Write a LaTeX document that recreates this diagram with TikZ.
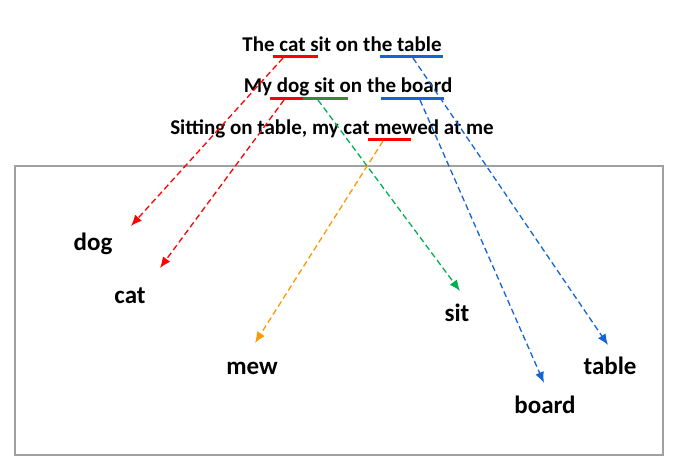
\documentclass[tikz,border=0pt]{standalone}
\usepackage{fontspec}
\setmainfont{Carlito}
\usetikzlibrary{arrows.meta,calc}
\definecolor{MapRed}{RGB}{255,0,0}
\definecolor{MapBlue}{RGB}{20,100,210}
\definecolor{MapGreen}{RGB}{0,176,80}
\definecolor{LineGreen}{RGB}{60,135,60}
\definecolor{MapOrange}{RGB}{255,153,0}
\definecolor{FrameGray}{RGB}{160,160,160}
\tikzset{
  sentence/.style={anchor=base,inner sep=0pt,font=\fontsize{21}{25}\selectfont\bfseries},
  word/.style={anchor=base,inner sep=0pt,font=\fontsize{25}{30}\selectfont\bfseries},
  underl/.style={line width=3pt},
  maparrow/.style={-{Latex[length=11pt,width=9pt]},dashed,dash pattern=on 6pt off 3.5pt,line width=1.3pt}
}
\begin{document}
\begin{tikzpicture}[x=1pt,y=-1pt]
      \useasboundingbox (0,0) rectangle (680,464);
      \draw[FrameGray,line width=1.2pt] (15,166) rectangle (663,455);
      % sentences
      \node[sentence] (s1) at (342,51) {The cat sit on the table};
      \node[sentence] (s2) at (348,92) {My dog sit on the board};
      \node[sentence] (s3) at (332,134) {Sitting on table, my cat mewed at me};
      % underlines
      \draw[underl,MapRed] (273,56) -- (318,56);
      \draw[underl,MapBlue] (380,56) -- (443,56);
      \draw[underl,MapRed] (270,98) -- (305,98);
      \draw[underl,LineGreen] (303,98) -- (348,98);
      \draw[underl,MapBlue] (381,98) -- (444,98);
      \draw[underl,MapRed] (368,139) -- (411,139);
      \coordinate (cat1) at (283,58);
      \coordinate (table1) at (413,58);
      \coordinate (dog2) at (284,100);
      \coordinate (sit2) at (318,100);
      \coordinate (board2) at (420,100);
      \coordinate (mew3) at (383,141);
      % words
      \node[word] (dog) at (93,250) {dog};
      \node[word] (cat) at (130,303) {cat};
      \node[word] (mew) at (252,374) {mew};
      \node[word] (sit) at (457,321) {sit};
      \node[word] (board) at (545,413) {board};
      \node[word] (table) at (610,374) {table};
      % mappings
      \draw[maparrow,MapRed] (cat1) -- ($(dog.base)+(38,-24)$);
      \draw[maparrow,MapRed] (dog2) -- ($(cat.base)+(30,-35)$);
      \draw[maparrow,MapGreen] (sit2) -- ($(sit.base)+(3,-30)$);
      \draw[maparrow,MapOrange] (mew3) -- ($(mew.base)+(3,-31)$);
      \draw[maparrow,MapBlue] (table1) -- ($(table.base)+(-2,-29)$);
      \draw[maparrow,MapBlue] (board2) -- ($(board.base)+(-1,-30)$);
    \end{tikzpicture}
\end{document}
